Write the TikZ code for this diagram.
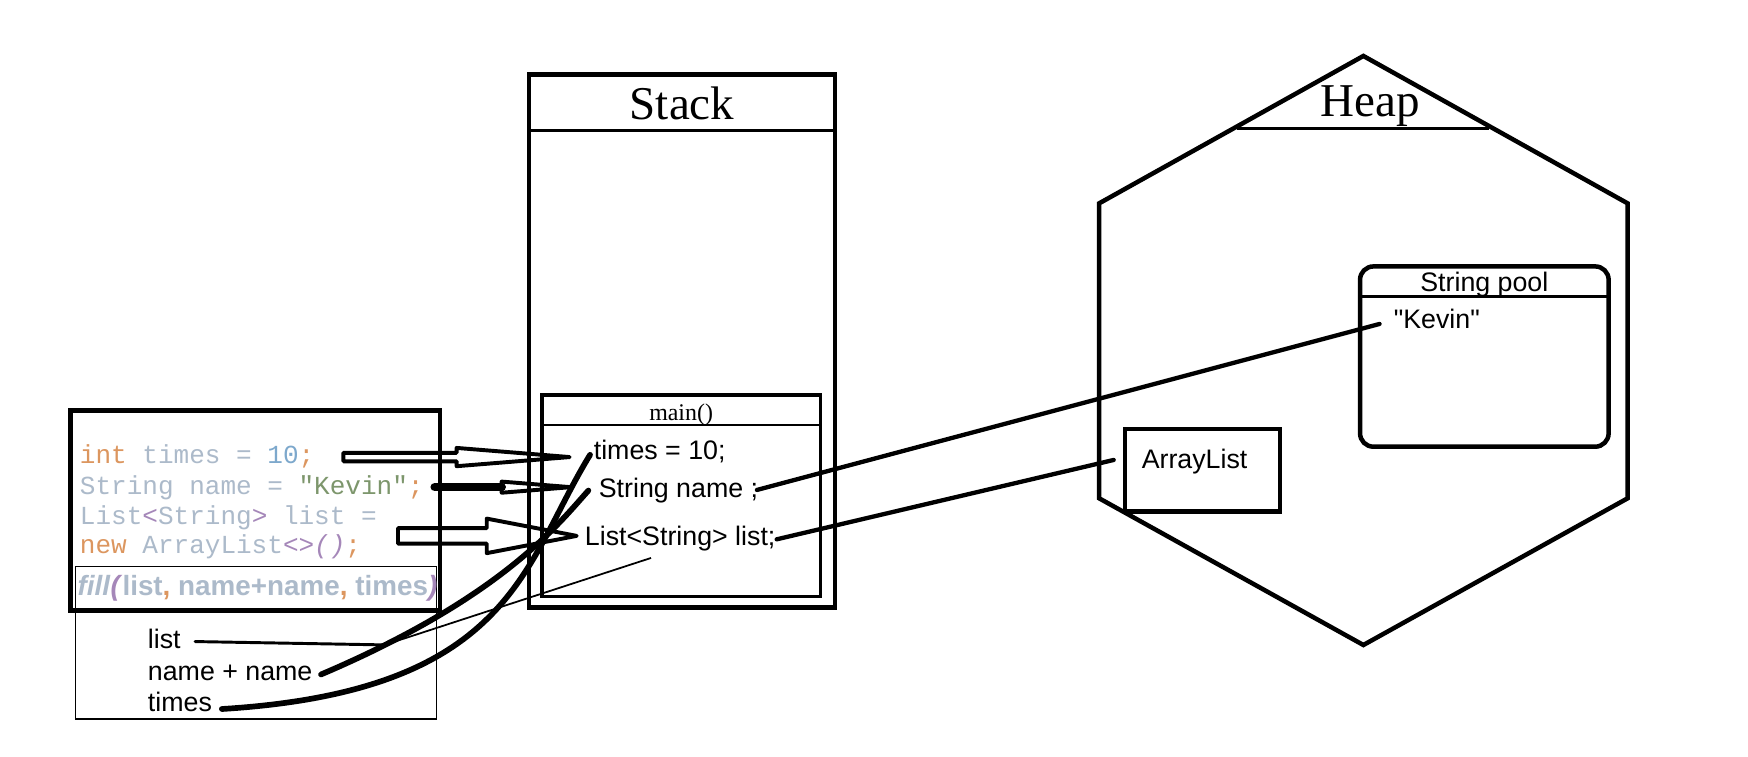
\documentclass[tikz,border=0pt]{standalone}
\usepackage{fontspec}
\setmainfont{Liberation Serif}
\newfontfamily\arial{Liberation Sans}
\newfontfamily\cour{Liberation Mono}
\usetikzlibrary{calc}
\definecolor{kw}{RGB}{220,150,95}
\definecolor{fg}{RGB}{172,186,202}
\definecolor{num}{RGB}{125,168,204}
\definecolor{str}{RGB}{125,150,108}
\definecolor{pur}{RGB}{165,135,185}
\begin{document}
\begin{tikzpicture}[x=0.01cm,y=-0.01cm,
  thickbox/.style={draw,line width=1.15pt},
  codebox/.style={draw,line width=1.25pt},
  thinbox/.style={draw,line width=0.3pt},
  hdr/.style={line width=0.8pt},
  thinhdr/.style={line width=0.6pt},
  title/.style={inner sep=0,anchor=base,font=\fontsize{12}{14}\selectfont},
  mainlbl/.style={inner sep=0,anchor=base,font=\fontsize{6.1}{7}\selectfont},
  lbl/.style={inner sep=0,anchor=base west,font={\arial\fontsize{6.83}{8}\selectfont}},
  clbl/.style={inner sep=0,anchor=base,font={\arial\fontsize{6.83}{8}\selectfont}},
  code/.style={inner sep=0,anchor=base west,font={\cour\fontsize{6.64}{8}\selectfont}},
  conn/.style={line width=1.1pt,line cap=round},
  hol/.style={line width=1pt,line join=round},
  curve/.style={line width=1.45pt,line cap=round}
]
\fill[white] (0,0) rectangle (1568,679);
\useasboundingbox (0,0) rectangle (1568,679);

% ---- code box ----
\draw[codebox] (63.2,368.2) rectangle (394.7,547.6);
\draw[thinbox] (67.7,508) rectangle (391.7,645);
\node[code] (c1) at (71,416.2) {\color{kw}int \color{fg}times = \color{num}10\color{kw};};
\node[code] (c2) at (71,443.2) {\color{fg}String name = \color{str}"Kevin"\color{kw};};
\node[code] (c3) at (71,470.2) {\color{fg}List\color{pur}<\color{fg}String\color{pur}> \color{fg}list =};
\node[code] (c4) at (71,496.2) {\color{kw}new \color{fg}ArrayList\color{pur}<>\textit{()}\color{kw};};
\node[inner sep=0,anchor=base west,font={\arial\bfseries\fontsize{7.1}{8}\selectfont},text=fg]
  (fillcall) at (69,534) {\textit{fill}{\color{pur}\textit{(}}list{\color{kw},} name+name{\color{kw},} times{\color{pur}\textit{)}}};
\node[lbl] (lbllist) at (132,582) {list};
\node[lbl] (lblname) at (132,610) {name + name};
\node[lbl] (lbltimes) at (132,638) {times};

% ---- stack ----
\draw[thickbox] (474.6,67) rectangle (749,545);
\draw[hdr] (474.6,117) -- (749,117);
\node[title] (stack) at (611.8,107.6) {Stack};
\draw[line width=0.95pt] (486.5,354.5) rectangle (736,535);
\draw[thinhdr] (486.5,381) -- (736,381);
\node[mainlbl] (mainfn) at (611,376.8) {main()};
\node[lbl] (stimes) at (532,412.6) {times = 10;};
\node[lbl] (sname) at (536.5,446) {String name ;};
\node[lbl] (slist) at (524,489) {List<String> list;};

% ---- heap ----
\draw[thickbox,line join=miter] (1223,50.2) -- (1460,182.4) -- (1460,447) -- (1223,578.6) -- (986,447) -- (986,182.4) -- cycle;
\draw[hdr] (1110,115) -- (1336,115);
\node[title] (heap) at (1229,104.7) {Heap};
\draw[thickbox,rounded corners=0.12cm] (1220,239) rectangle (1443,400.7);
\draw[thinhdr] (1220,266) -- (1443,266);
\node[clbl] (pool) at (1331.5,261.6) {String pool};
\node[lbl] (kevin) at (1249.6,294.5) {"Kevin"};
\draw[thickbox] (1009,385) rectangle (1148,459);
\node[lbl] (arrlist) at (1023.5,420) {ArrayList};

% ---- connectors to heap ----
\coordinate (snameR) at (679,439.5);
\coordinate (kevinL) at (1237.5,290.6);
\coordinate (slistR) at (696.7,483.8);
\coordinate (arrL) at (999,412.6);
\draw[conn] (snameR) -- (kevinL);
\draw[conn] (slistR) -- (arrL);

% ---- hollow arrows code -> stack ----
\coordinate (a1s) at (308,410);
\coordinate (a1e) at (511,410);
\draw[hol] ($(a1s)+(0,-3.8)$) -- ($(a1e)+(-101.4,-3.8)$) -- ($(a1e)+(-101.4,-8.2)$) -- (a1e)
  -- ($(a1e)+(-101.4,8.2)$) -- ($(a1e)+(-101.4,3.8)$) -- ($(a1s)+(0,3.8)$) -- cycle;
\coordinate (a2s) at (390,437);
\coordinate (a2e) at (512,437);
\draw[line width=2.2pt,line cap=round] (a2s) -- ($(a2e)+(-62,0)$);
\draw[hol] ($(a2e)+(-62,-5)$) -- (a2e) -- ($(a2e)+(-62,5)$) -- cycle;
\coordinate (a3s) at (357,480.7);
\coordinate (a3e) at (517.3,480.7);
\draw[hol] ($(a3s)+(0,-6.9)$) -- ($(a3e)+(-80.7,-6.9)$) -- ($(a3e)+(-80.7,-15.5)$) -- (a3e)
  -- ($(a3e)+(-80.7,15.5)$) -- ($(a3e)+(-80.7,6.9)$) -- ($(a3s)+(0,6.9)$) -- cycle;

% ---- argument lines ----
\coordinate (lstA) at (175,575.5);
\coordinate (lstB) at (345,578.5);
\coordinate (lstC) at (584,500.5);
\draw[line width=0.75pt,line cap=round] (lstA) -- (lstB);
\draw[line width=0.45pt] (lstB) -- (lstC);
\coordinate (nnA) at (288,605);
\coordinate (snE) at (527.8,440);
\draw[curve] (nnA) .. controls (450,536) and (500,471) .. (snE);
\coordinate (tmA) at (199,636);
\coordinate (stE) at (529.3,408);
\draw[curve] (tmA) .. controls (460,620) and (469,506) .. (stE);
\end{tikzpicture}
\end{document}
